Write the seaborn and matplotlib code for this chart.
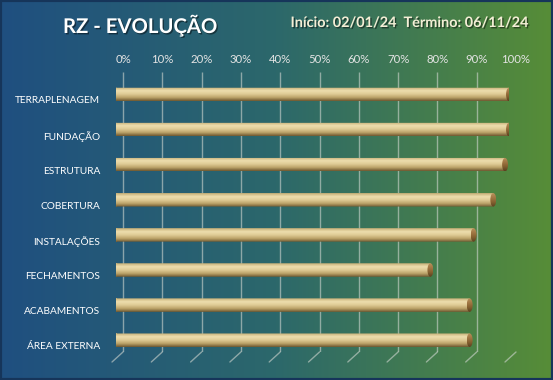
import numpy as np
import matplotlib
matplotlib.use('Agg')
import matplotlib.pyplot as plt
import matplotlib.patheffects as pe
import seaborn as sns
from matplotlib.colors import LinearSegmentedColormap
from matplotlib.patches import Ellipse, PathPatch, Rectangle
from matplotlib.path import Path
from matplotlib.transforms import Affine2D, ScaledTranslation

# dados do gráfico
etapas = ['TERRAPLENAGEM', 'FUNDAÇÃO', 'ESTRUTURA', 'COBERTURA',
          'INSTALAÇÕES', 'FECHAMENTOS', 'ACABAMENTOS', 'ÁREA EXTERNA']
evolucao = [100, 100, 99, 96, 91, 80, 90, 90]
ticks = [0, 10, 20, 30, 40, 50, 60, 70, 80, 90, 100]
tick_labels = ['0%', '10%', '20%', '30%', '40%', '50%', '60%', '70%', '80%', '90%', '100%']
titulo = 'RZ - EVOLUÇÃO'
periodo = 'Início: 02/01/24  Término: 06/11/24'

sns.set_style('white')
plt.rcParams['font.family'] = ['Lato', 'DejaVu Sans']

W, H = 553, 380
fig = plt.figure(figsize=(W / 100, H / 100), dpi=100)

# fundo em degradê azul -> verde
bg = fig.add_axes([0, 0, 1, 1], zorder=0)
fundo = LinearSegmentedColormap.from_list('fundo', ['#1f4f80', '#2c686b', '#578d37'])
bg.imshow(np.linspace(0, 1, 256).reshape(1, -1), cmap=fundo, aspect='auto', extent=(0, 1, 0, 1))
bg.add_patch(Rectangle((0, 0), 1, 1, transform=bg.transAxes, fill=False, ec='#16355a', lw=3))
bg.axis('off')

# eixo principal (0% na frente das barras, grade deslocada para trás)
x0, x100, ytop, ybot = 116, 509, 72, 352
ax = fig.add_axes([x0 / W, 1 - ybot / H, (x100 - x0) / W, (ybot - ytop) / H], zorder=1)
ax.patch.set_alpha(0)

sns.barplot(x=evolucao, y=etapas, orient='h', width=0.385, color='#d2bd85',
            errorbar=None, ax=ax, zorder=3)

cil = LinearSegmentedColormap.from_list('cil', ['#c4ad74', '#eddeae', '#dfcb95', '#bca369', '#6e5830'])
tampa = LinearSegmentedColormap.from_list('tampa', ['#b8925c', '#a27744', '#84602f', '#5a4120'])
grad = np.linspace(0, 1, 64).reshape(-1, 1)
e = 1.5  # largura da elipse das pontas

for barra in list(ax.patches):
    x, y, w, h = barra.get_x(), barra.get_y(), barra.get_width(), barra.get_height()
    barra.set_facecolor('none')
    barra.set_linewidth(0)
    ret = Path.unit_rectangle().transformed(Affine2D().scale(w, h).translate(x, y))
    ell = Path.unit_circle().transformed(Affine2D().scale(e / 2, h / 2).translate(x, y + h / 2))
    contorno = PathPatch(Path.make_compound_path(ret, ell), transform=ax.transData,
                         fc='none', ec='none')
    ax.add_patch(contorno)
    im = ax.imshow(grad, cmap=cil, aspect='auto', extent=(x - e / 2, x + w, y + h, y), zorder=3)
    im.set_clip_path(contorno)
    cap = Ellipse((x + w, y + h / 2), e, h, fc='none', ec='none', transform=ax.transData)
    ax.add_patch(cap)
    im2 = ax.imshow(grad, cmap=tampa, aspect='auto', extent=(x + w - e / 2, x + w + e / 2, y + h, y), zorder=4)
    im2.set_clip_path(cap)

# grade (plano de fundo) com linhas diagonais no "piso"
tras = ScaledTranslation(7 / 100, 0, fig.dpi_scale_trans)
ax.vlines(ticks, 0, 1, transform=ax.get_xaxis_transform() + tras, color='#d0d6d0', alpha=0.6, lw=1, zorder=1)
for t in ticks:
    ax.annotate('', xy=(t, 0), xycoords=ax.get_xaxis_transform() + tras,
                xytext=(-11, -10), textcoords='offset pixels', annotation_clip=False,
                arrowprops=dict(arrowstyle='-', color='#d0d6d0', alpha=0.6, lw=1, shrinkA=0, shrinkB=0))

ax.set_xlim(0, 100)
ax.set_ylim(7.336, -0.641)
ax.set_xticks(ticks, tick_labels)
ax.xaxis.tick_top()
ax.set_yticks(range(len(etapas)), etapas)
ax.tick_params(axis='x', length=0, pad=5, labelsize=8.2, labelcolor='#e4e4e4')
ax.tick_params(axis='y', length=0, pad=11.5, labelsize=7.3, labelcolor='white')
for lab in ax.get_xticklabels():
    lab.set_transform(lab.get_transform() + tras)
for lab in ax.get_yticklabels():
    lab.set_transform(lab.get_transform() + ScaledTranslation(0, -0.055, fig.dpi_scale_trans))
ax.set_xlabel('')
ax.set_ylabel('')
sns.despine(ax=ax, left=True, bottom=True, top=True, right=True)

sombra = [pe.withSimplePatchShadow(offset=(1, -1), shadow_rgbFace='black', alpha=0.45)]
fig.text(63 / W, 1 - 33 / H, titulo, fontsize=14.6, weight='bold', color='white',
         ha='left', va='baseline', path_effects=sombra)
fig.text(528 / W, 1 - 27 / H, periodo, fontsize=10.4, weight='bold', color='#f4eed6',
         ha='right', va='baseline', path_effects=sombra)

fig.savefig('out.png', dpi=100)
